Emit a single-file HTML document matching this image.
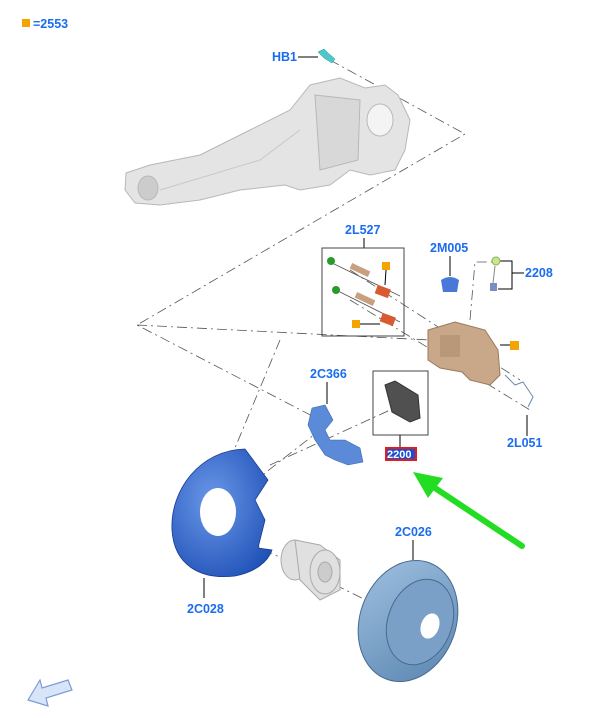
<!DOCTYPE html>
<html><head><meta charset="utf-8"><style>
body{margin:0;background:#fff;}
svg{display:block}
text{font-family:"Liberation Sans",sans-serif;font-weight:bold;font-size:12.5px;fill:#1a6cf0}
</style></head><body>
<svg width="600" height="718" viewBox="0 0 600 718" xmlns="http://www.w3.org/2000/svg">
<defs>
<radialGradient id="sh" cx="0.4" cy="0.4" r="0.7"><stop offset="0" stop-color="#6a98e8"/><stop offset="1" stop-color="#2052b8"/></radialGradient>
<linearGradient id="ds" x1="0" y1="0" x2="1" y2="1"><stop offset="0" stop-color="#9fc0e0"/><stop offset="1" stop-color="#5a86b0"/></linearGradient>
</defs>
<rect x="22" y="19" width="8" height="8" fill="#f5a300"/>
<text x="33" y="28">=2553</text>
<g stroke="#555" stroke-width="0.8" fill="none" stroke-dasharray="10,4,2,4">
<path d="M330,60 L465,134 L137,325 L320,420"/>
<path d="M137,325 L430,340"/>
<path d="M350,270 L520,380"/>
<path d="M350,300 L530,410"/>
<path d="M280,340 L205,520 L430,632"/>
<path d="M270,465 L390,410"/>
<path d="M205,520 L320,430"/>
<path d="M470,320 L475,262 L495,262"/>
</g>
<text x="272" y="61">HB1</text>
<line x1="298" y1="57" x2="318" y2="57" stroke="#000"/>
<path d="M318,52 l6,-3 l4,4 l7,6 l-3,4 l-8,-5 z" fill="#4cc8c8" stroke="#2a9a9a" stroke-width="0.5"/>
<g fill="#e4e4e4" stroke="#b8b8b8" stroke-width="1">
<path d="M126,173 L150,165 L200,155 L250,130 L290,110 L310,85 L340,78 L365,88 L385,85 L398,95 L410,120 L405,150 L395,170 L370,175 L350,170 L330,185 L300,190 L285,185 L240,190 L200,200 L160,205 L135,203 L125,190 Z"/>
<path d="M315,95 L360,100 L358,160 L320,170 Z" fill="#d8d8d8"/>
<ellipse cx="380" cy="120" rx="13" ry="16" fill="#f4f4f4"/>
<ellipse cx="148" cy="188" rx="10" ry="12" fill="#ccc"/>
<path d="M160,190 L260,160 L300,130" fill="none" stroke="#c8c8c8"/>
</g>
<text x="345" y="234">2L527</text>
<line x1="364" y1="238" x2="364" y2="248" stroke="#000"/>
<rect x="322" y="248" width="82" height="88" fill="none" stroke="#444" stroke-width="1"/>
<g stroke="#555" stroke-width="0.8">
<line x1="330" y1="262" x2="400" y2="296"/><line x1="336" y1="290" x2="400" y2="322"/>
</g>
<circle cx="331" cy="261" r="4" fill="#2a9a2a"/><circle cx="336" cy="290" r="4" fill="#2a9a2a"/>
<rect x="350" y="267" width="20" height="6" transform="rotate(25 360 270)" fill="#c8a080"/>
<rect x="355" y="296" width="20" height="6" transform="rotate(25 365 299)" fill="#c8a080"/>
<rect x="376" y="287" width="14" height="9" transform="rotate(20 383 291)" fill="#d85a30"/>
<rect x="381" y="315" width="14" height="9" transform="rotate(20 388 319)" fill="#d85a30"/>
<rect x="382" y="262" width="8" height="8" fill="#f5a300"/><line x1="386" y1="270" x2="385" y2="285" stroke="#000"/>
<rect x="352" y="320" width="8" height="8" fill="#f5a300"/><line x1="360" y1="324" x2="380" y2="324" stroke="#000"/>
<text x="430" y="252">2M005</text>
<line x1="450" y1="256" x2="450" y2="276" stroke="#000"/>
<path d="M441,280 q9,-6 18,0 l-2,12 l-14,0 z" fill="#4a78d8"/>
<text x="525" y="277">2208</text>
<path d="M498,261 L512,261 L512,289 L498,289 M512,273 L524,273" fill="none" stroke="#000"/>
<circle cx="496" cy="261" r="4" fill="#c8e890" stroke="#8ab050"/>
<rect x="490" y="283" width="7" height="8" fill="#7890c0"/>
<line x1="495" y1="266" x2="493" y2="283" stroke="#888"/>
<path d="M428,330 L455,322 L485,330 L498,350 L500,375 L490,385 L470,380 L462,372 L440,368 L428,360 Z" fill="#c8a888" stroke="#9a7a5a" stroke-width="1"/>
<rect x="440" y="335" width="20" height="22" fill="#b89878"/>
<rect x="510" y="341" width="9" height="9" fill="#f5a300"/><line x1="500" y1="345" x2="510" y2="345" stroke="#000"/>
<path d="M505,375 l10,10 l8,-3 l10,15 l-5,10" fill="none" stroke="#6a8ab0" stroke-width="1"/>
<text x="507" y="447">2L051</text>
<line x1="527" y1="415" x2="527" y2="436" stroke="#000"/>
<text x="310" y="378">2C366</text>
<line x1="327" y1="382" x2="327" y2="404" stroke="#000"/>
<path d="M312,408 L325,405 L333,420 L325,430 L330,440 L345,440 L360,448 L363,462 L348,465 L335,460 L325,455 L315,440 L308,425 Z" fill="#5a8ad8" stroke="#3a6ab0" stroke-width="0.6"/>
<rect x="373" y="371" width="55" height="64" fill="none" stroke="#444"/>
<path d="M385,385 L395,381 L418,395 L420,418 L410,422 L392,412 Z" fill="#505050" stroke="#333"/>
<line x1="400" y1="435" x2="400" y2="447" stroke="#000"/>
<rect x="385" y="447" width="32" height="14" fill="#e81a1a"/>
<rect x="387" y="449" width="28" height="10" fill="#1a50d0"/>
<text x="387" y="458" style="fill:#fff;font-size:11px">2200</text>
<line x1="522" y1="546" x2="432" y2="486" stroke="#22dd22" stroke-width="6" stroke-linecap="round"/>
<path d="M413,472 L443,478 L428,498 Z" fill="#22dd22"/>
<path d="M245,449 C200,450 170,490 172,530 C174,565 200,580 235,576 C255,572 268,562 272,550 L258,548 L265,520 L255,500 L268,480 Z" fill="url(#sh)" stroke="#1a3a90" stroke-width="0.8"/>
<ellipse cx="218" cy="512" rx="18" ry="24" fill="#fff"/>
<line x1="204" y1="578" x2="204" y2="598" stroke="#000"/>
<text x="187" y="613">2C028</text>
<g fill="#e0e0e0" stroke="#aaa">
<ellipse cx="295" cy="560" rx="14" ry="20"/>
<path d="M295,540 L320,545 L340,560 L340,590 L320,600 L300,580 Z"/>
<ellipse cx="325" cy="572" rx="15" ry="22"/>
<ellipse cx="325" cy="572" rx="7" ry="10" fill="#ccc"/>
</g>
<text x="395" y="536">2C026</text>
<line x1="413" y1="540" x2="413" y2="560" stroke="#000"/>
<ellipse cx="408" cy="621" rx="48" ry="62" transform="rotate(20 408 621)" fill="url(#ds)" stroke="#4a6a90"/>
<ellipse cx="420" cy="622" rx="32" ry="44" transform="rotate(20 420 622)" fill="#7aa0c8" stroke="#4a6a90"/>
<ellipse cx="430" cy="626" rx="9" ry="13" transform="rotate(20 430 626)" fill="#fff"/>
<path d="M28,700 L40,680 L42,688 L68,680 L72,690 L46,698 L48,706 Z" fill="#d8e4f8" stroke="#7a9ad8" stroke-width="1.2"/>
</svg>
</body></html>
